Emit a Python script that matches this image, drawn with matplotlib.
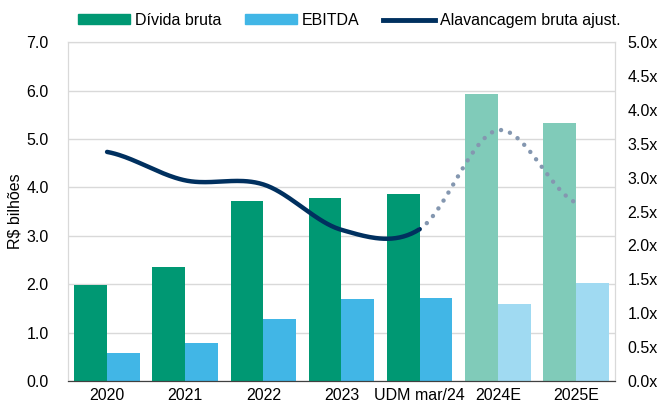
import numpy as np
import matplotlib
matplotlib.use("Agg")
import matplotlib.pyplot as plt
from matplotlib.patches import Patch
from matplotlib.lines import Line2D

plt.rcParams["font.family"] = ["Liberation Sans", "DejaVu Sans"]
plt.rcParams["font.size"] = 11.5

categories = ["2020", "2021", "2022", "2023", "UDM mar/24", "2024E", "2025E"]
divida = [1.98, 2.35, 3.72, 3.78, 3.87, 5.92, 5.33]
ebitda = [0.58, 0.78, 1.28, 1.70, 1.72, 1.60, 2.03]
alavancagem = [3.38, 2.96, 2.90, 2.23, 2.24, 3.70, 2.63]
n_real = 5  # 2020..UDM are actual, the rest projected

c_div, c_div_proj = "#009873", "#80CBB9"
c_ebt, c_ebt_proj = "#41B6E6", "#A0DAF2"
c_line, c_dots = "#00305F", "#8497B0"

fig = plt.figure(figsize=(6.62, 4.05), dpi=100)
ax = fig.add_axes([0.1027, 0.0593, 0.8263, 0.8367])
ax2 = ax.twinx()

x = np.arange(len(categories))
w = 0.42
ax.bar(x - w / 2, divida, w, color=[c_div] * n_real + [c_div_proj] * (len(x) - n_real), zorder=2)
ax.bar(x + w / 2, ebitda, w, color=[c_ebt] * n_real + [c_ebt_proj] * (len(x) - n_real), zorder=2)

# smoothed line (Catmull-Rom, like Excel's smoothed line)
y = np.array(alavancagem)
t = np.linspace(0, 1, 40)
segs = []
for i in range(len(y) - 1):
    p0 = y[max(i - 1, 0)]
    p1, p2 = y[i], y[i + 1]
    p3 = y[min(i + 2, len(y) - 1)]
    m1, m2 = (p2 - p0) / 2, (p3 - p1) / 2
    h00 = 2 * t**3 - 3 * t**2 + 1
    h10 = t**3 - 2 * t**2 + t
    h01 = -2 * t**3 + 3 * t**2
    h11 = t**3 - t**2
    segs.append((i + t, h00 * p1 + h10 * m1 + h01 * p2 + h11 * m2))
xs_solid = np.concatenate([s[0] for s in segs[:n_real - 1]])
ys_solid = np.concatenate([s[1] for s in segs[:n_real - 1]])
xs_dot = np.concatenate([s[0] for s in segs[n_real - 1:]])
ys_dot = np.concatenate([s[1] for s in segs[n_real - 1:]])
ax2.plot(xs_dot, ys_dot, color=c_dots, lw=3.2, linestyle=(0, (0.01, 2.1)),
         dash_capstyle="round", zorder=3)
ax2.plot(xs_solid, ys_solid, color=c_line, lw=3.2, solid_capstyle="round", zorder=4)

ax.set_xlim(-0.5, 6.5)
ax.set_ylim(0, 7)
ax.set_yticks(np.arange(0, 7.1, 1))
ax.set_yticklabels([f"{v:.1f}" for v in np.arange(0, 7.1, 1)])
ax2.set_ylim(0, 5)
ax2.set_yticks(np.arange(0, 5.01, 0.5))
ax2.set_yticklabels([f"{v:.1f}x" for v in np.arange(0, 5.01, 0.5)])
ax.set_xticks(x)
ax.set_xticklabels(categories)
ax.set_ylabel("R$ bilhões", labelpad=3)

ax.grid(axis="y", color="#D9D9D9", lw=1, zorder=0)
ax.set_axisbelow(True)
for a in (ax, ax2):
    for s in ("left", "right", "top"):
        a.spines[s].set_color("#D9D9D9")
    a.spines["bottom"].set_color("#404040")
    a.tick_params(length=0, colors="black", labelsize=11.5)
ax.tick_params(axis="y", pad=14)
ax2.tick_params(axis="y", pad=9)
ax.tick_params(axis="x", pad=5)

handles = [Patch(color=c_div), Patch(color=c_ebt), Line2D([], [], color=c_line, lw=3.5)]
labels = ["Dívida bruta", "EBITDA", "Alavancagem bruta ajust."]
fig.legend(handles, labels, loc="center left", bbox_to_anchor=(78 / 662, 1 - 20.5 / 405),
           ncol=3, frameon=False, borderpad=0, borderaxespad=0,
           handlelength=3.25, handleheight=0.56, handletextpad=0.3,
           columnspacing=1.5, fontsize=11.5)

fig.savefig("out.png", dpi=100)
